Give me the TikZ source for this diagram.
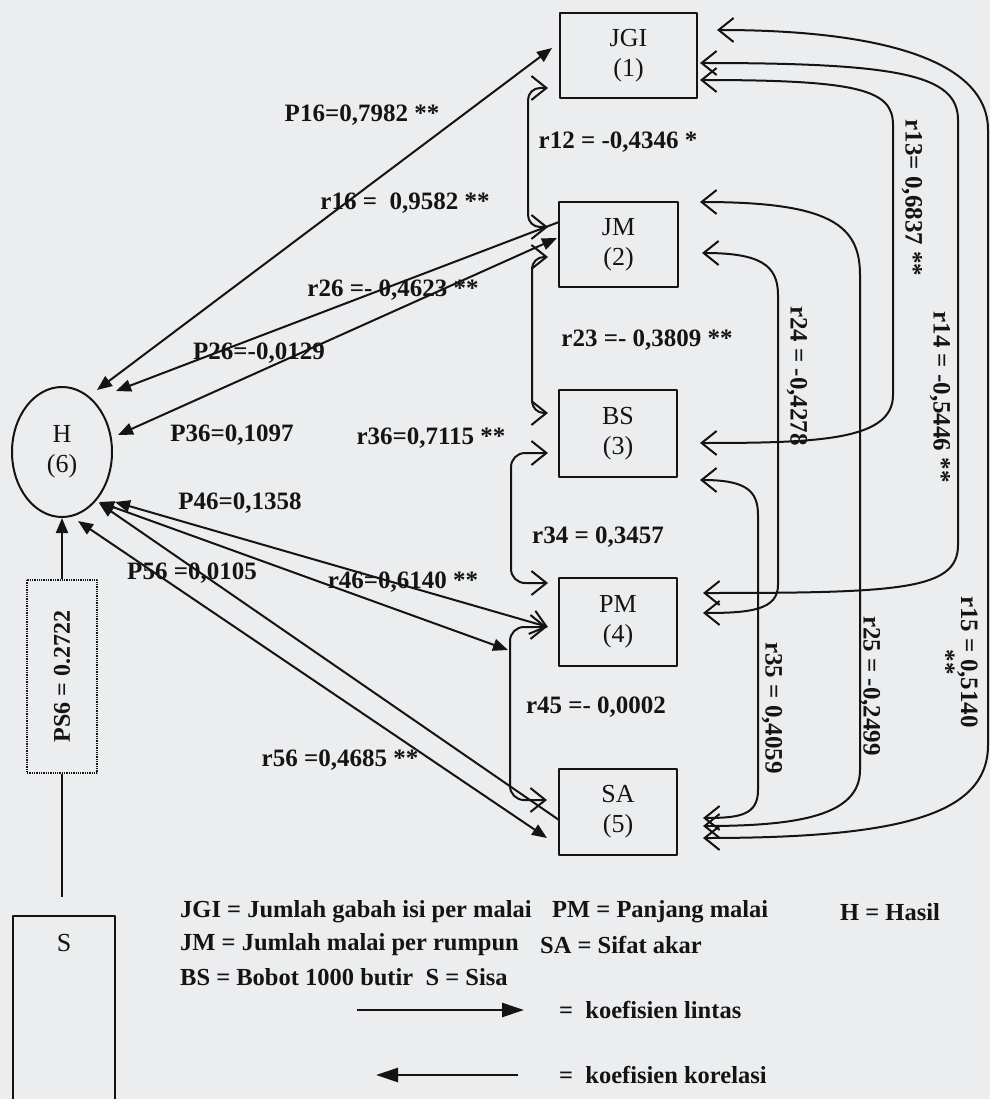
\documentclass[tikz,border=0pt]{standalone}
\usepackage{fontspec}
\setmainfont{Liberation Serif}
\usetikzlibrary{arrows.meta,shapes.geometric}
\definecolor{pagebg}{RGB}{236,237,239}
\definecolor{ink}{RGB}{20,20,20}
\begin{document}
\begin{tikzpicture}[x=1pt,y=-1pt,line join=round,
  ptip/.tip={Triangle[length=15pt,width=12pt]},
  otip/.tip={Straight Barb[length=15pt,width=24pt]},
  ltip/.tip={Triangle[length=22pt,width=14pt]},
  pline/.style={line width=2pt, draw=ink},
  cline/.style={line width=2pt, draw=ink},
  lbl/.style={font=\fontsize{25}{26}\selectfont\bfseries, inner sep=0pt, text=ink},
  boxs/.style={draw=ink, line width=2pt, font=\fontsize{26}{30}\selectfont, align=center, inner sep=0pt, text=ink},
  leg/.style={font=\fontsize{24.5}{28}\selectfont\bfseries, inner sep=0pt, anchor=west, text=ink}]
\fill[pagebg] (0,0) rectangle (990,1099);
\useasboundingbox (0,0) rectangle (990,1099);
\clip (0,0) rectangle (990,1099);

% boxes
\node[boxs, minimum width=137pt, minimum height=85pt] (JGI) at (628.5,55.5) {JGI\\(1)};
\node[boxs, minimum width=119pt, minimum height=85pt] (JM) at (618.5,244.5) {JM\\(2)};
\node[boxs, minimum width=118pt, minimum height=87pt] (BS) at (618,433.5) {BS\\(3)};
\node[boxs, minimum width=118pt, minimum height=88pt] (PM) at (618,622) {PM\\(4)};
\node[boxs, minimum width=118pt, minimum height=86pt] (SA) at (618,812) {SA\\(5)};
\node[boxs, ellipse, minimum width=100pt, minimum height=130pt] (H) at (62,452) {H\\(6)};
\node[draw=ink, densely dotted, line width=1.3pt, rotate=90, minimum width=193pt, minimum height=70pt, inner sep=0pt,
  font=\fontsize{24}{26}\selectfont\bfseries, text=ink] (PS6) at (62,676.5) {PS6 = 0.2722};
\node[draw=ink, line width=2pt, anchor=north, minimum width=102pt, minimum height=220pt, inner sep=0pt] (S) at (64,915) {};
\node[font=\fontsize{26}{30}\selectfont, inner sep=0pt, text=ink] (Stext) at (64,943) {S};

% residual path
\draw[pline, shorten <=18pt] (PS6.west |- S.north) -- (PS6.west);
\draw[pline, -ptip] (PS6.east) -- (H.south);

% tips of the path / correlation lines to H
\coordinate (h16) at (97,390);   \coordinate (j16) at (552,48);
\coordinate (h26a) at (116,391); \coordinate (m26a) at (559,222);
\coordinate (h26b) at (118,435); \coordinate (m26b) at (557,238);
\coordinate (h46a) at (115,502); \coordinate (p46a) at (548,627);
\coordinate (h46b) at (99,502);  \coordinate (p46b) at (508,650);
\coordinate (h56a) at (99,503);  \coordinate (s56a) at (559,820);
\coordinate (h56b) at (78,521);  \coordinate (s56b) at (547,838);

\draw[pline, ptip-ptip] (h16) -- (j16);
\draw[pline, ptip-] (h26a) -- (m26a);
\draw[pline, ptip-ptip] (h26b) -- (m26b);
\draw[pline, ptip-otip] (h46a) -- (p46a);
\draw[pline, ptip-ptip] (h46b) -- (p46b);
\draw[pline, ptip-] (h56a) -- (s56a);
\draw[pline, ptip-ptip] (h56b) -- (s56b);

% left correlation brackets
\draw[cline, otip-otip, rounded corners=12pt] (548,88) -- (528,88) -- (528,227) -- (548,227);
\draw[cline, otip-otip, rounded corners=12pt] (548,257) -- (532,257) -- (532,413) -- (548,413);
\draw[cline, otip-otip, rounded corners=14pt] (548,453) -- (511,453) -- (511,583) -- (548,583);
\draw[cline, otip-otip, rounded corners=14pt] (547,627) -- (510,627) -- (510,800) -- (547,800);

% right correlation curves
\draw[cline, otip-otip] (717,30) .. controls (880,30) and (988,60) .. (988,130) -- (988,745) .. controls (988,815) and (900,838) .. (703,838);
\draw[cline, otip-otip] (700,63) .. controls (900,63) and (958,75) .. (958,120) -- (958,545) .. controls (958,590) and (900,593) .. (703,593);
\draw[cline, otip-otip] (700,80) .. controls (860,80) and (893,90) .. (893,125) -- (893,395) .. controls (893,440) and (820,443) .. (700,443);
\draw[cline, otip-otip] (700,202) .. controls (830,202) and (860,225) .. (860,275) -- (860,770) .. controls (860,815) and (800,826) .. (703,826);
\draw[cline, otip-otip] (702,253) .. controls (760,253) and (778,265) .. (778,295) -- (778,585) .. controls (778,610) and (750,613) .. (703,613);
\draw[cline, otip-otip] (700,480) .. controls (745,480) and (758,490) .. (758,515) -- (758,790) .. controls (758,815) and (740,818) .. (703,818);

% coefficient labels
\node[lbl] (lP16) at (362,115) {P16=0,7982 **};
\node[lbl] (lr16) at (405,203) {r16 =\ \ 0,9582 **};
\node[lbl] (lr26) at (393,290) {r26 =- 0,4623 **};
\node[lbl] (lP26) at (259,353) {P26=-0,0129};
\node[lbl] (lP36) at (232,435) {P36=0,1097};
\node[lbl] (lr36) at (431,438) {r36=0,7115 **};
\node[lbl] (lP46) at (240,503) {P46=0,1358};
\node[lbl] (lP56) at (192,573) {P56 =0,0105};
\node[lbl] (lr46) at (403,582) {r46=0,6140 **};
\node[lbl] (lr56) at (340,760) {r56 =0,4685 **};
\node[lbl] (lr12) at (618,142) {r12 = -0,4346 *};
\node[lbl] (lr23) at (647,340) {r23 =- 0,3809 **};
\node[lbl] (lr34) at (598,537) {r34 = 0,3457};
\node[lbl] (lr45) at (596,707) {r45 =- 0,0002};
\node[lbl, rotate=-90] (lr13) at (912,198) {r13= 0,6837 **};
\node[lbl, rotate=-90] (lr14) at (940,397) {r14 = -0,5446 **};
\node[lbl, rotate=-90] (lr24) at (797,376) {r24 = -0,4278};
\node[lbl, rotate=-90, align=center, font=\fontsize{25}{23}\selectfont\bfseries] (lr15) at (958,662) {r15 = 0,5140\\**};
\node[lbl, rotate=-90] (lr25) at (870,686) {r25 = -0,2499};
\node[lbl, rotate=-90] (lr35) at (772,708) {r35 = 0,4059};

% legend
\node[leg] (leg1) at (180,912) {JGI = Jumlah gabah isi per malai};
\node[leg] (leg2) at (552,912) {PM = Panjang malai};
\node[leg] (leg3) at (840,912) {H = Hasil};
\node[leg] (leg4) at (180,945) {JM = Jumlah malai per rumpun};
\node[leg] (leg5) at (540,945) {SA = Sifat akar};
\node[leg] (leg6) at (180,977) {BS = Bobot 1000 butir\ \ S = Sisa};
\coordinate (la1s) at (357,1010); \coordinate (la1e) at (524,1010);
\draw[line width=2.6pt, draw=ink, fill=ink, -ltip] (la1s) -- (la1e);
\node[leg] (leg7) at (559,1010) {=\ \ koefisien lintas};
\coordinate (la2s) at (518,1075); \coordinate (la2e) at (376,1075);
\draw[line width=2.6pt, draw=ink, fill=ink, -ltip] (la2s) -- (la2e);
\node[leg] (leg8) at (559,1075) {=\ \ koefisien korelasi};
\end{tikzpicture}
\end{document}
